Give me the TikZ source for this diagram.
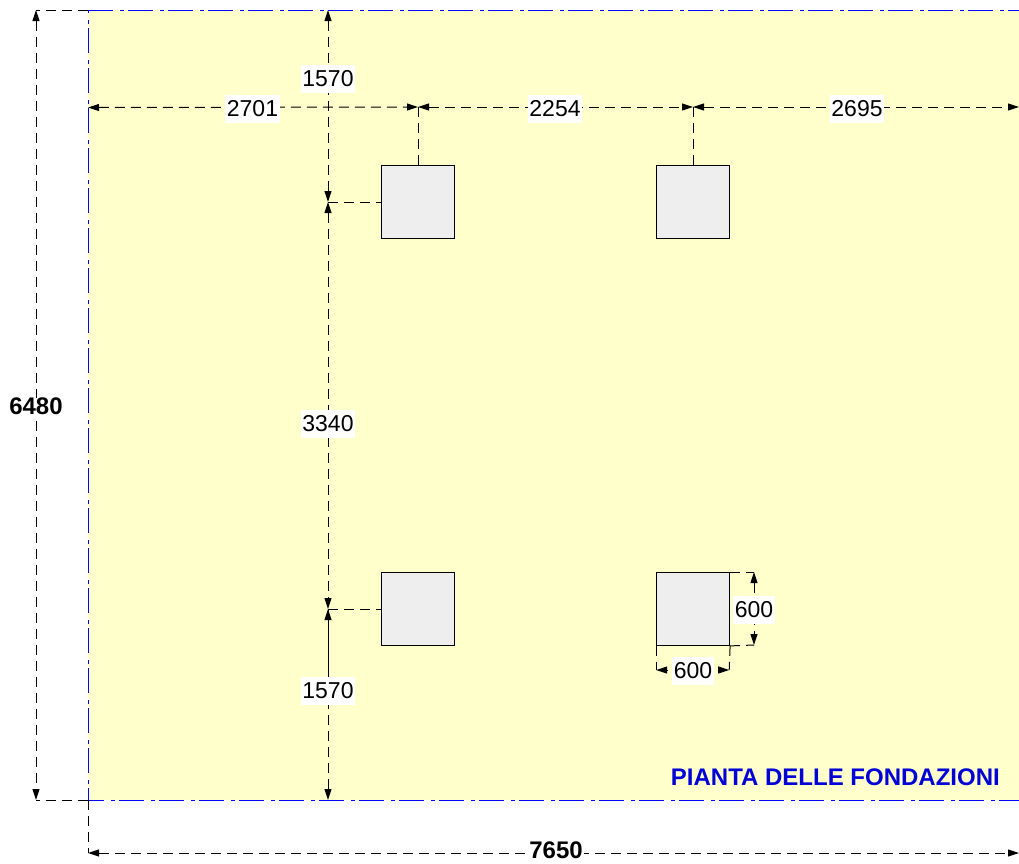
\documentclass[tikz,border=0pt]{standalone}
\usepackage{fontspec}
\setmainfont{Liberation Sans}
\usetikzlibrary{arrows.meta}
\definecolor{plan}{RGB}{255,255,204}
\definecolor{column}{RGB}{238,238,238}
\definecolor{titleblue}{RGB}{0,0,215}
\tikzset{
  x=1pt,y=-1pt,
  tip/.tip={Triangle[length=11pt,width=7pt]},
  dimline/.style={draw=black,line width=1pt,dash pattern=on 10pt off 6pt},
  extline/.style={draw=black,line width=1pt,dash pattern=on 10pt off 6pt},
  dimarrow/.style={tip-tip},
  axisline/.style={draw=blue,line width=1pt},
  columnbox/.style={draw=black,fill=column,line width=0.9pt,minimum width=73pt,minimum height=73pt,inner sep=0pt,anchor=north west},
  dimlabel/.style={fill=white,inner xsep=1.5pt,inner ysep=0pt,minimum height=28pt,font=\fontsize{23}{23}\selectfont,text=black},
  boldlabel/.style={dimlabel,minimum height=17pt,font=\fontsize{24}{24}\selectfont\bfseries},
  titlelabel/.style={font=\fontsize{24}{24}\selectfont\bfseries,text=titleblue,anchor=east,inner sep=0pt}
}
\begin{document}
\begin{tikzpicture}
\useasboundingbox (0,0) rectangle (1019,863);
\fill[plan] (88,10) rectangle (1019,800);
% frame points
\coordinate (TL) at (88,10);
\coordinate (TR) at (1019,10);
\coordinate (BL) at (88,800);
\coordinate (BR) at (1019,800);
\coordinate (LT) at (36,10);
\coordinate (LB) at (36,800);
\coordinate (BD) at (88,853);
\coordinate (BE) at (1019,853);
\coordinate (A0) at (88,107.5);
\coordinate (A1) at (418,107);
\coordinate (A2) at (693,107);
\coordinate (A3) at (1019,107);
\coordinate (V0) at (328,10);
\coordinate (V1) at (328,202);
\coordinate (V2) at (328,609);
\coordinate (V3) at (328,800);
% columns
\node[columnbox] (c1) at (381.2,165) {};
\node[columnbox] (c2) at (656.2,165) {};
\node[columnbox] (c3) at (381.2,572) {};
\node[columnbox] (c4) at (656.2,572) {};
% blue axis lines
\draw[axisline,dash pattern=on 25pt off 7pt on 4pt off 4pt] (TL) -- (TR);
\draw[axisline,dash pattern=on 25pt off 7pt on 4pt off 4pt,dash phase=22pt] (TL) -- (BL);
\draw[axisline,dash pattern=on 25pt off 7pt on 4pt off 4pt,dash phase=9pt] (BL) -- (BR);
% extension lines
\draw[extline] (TL) -- (LT);
\draw[extline] (BL) -- (LB);
\draw[extline] (BL) -- (BD);
\draw[extline] (A1) -- (c1.north -| A1);
\draw[extline] (A2) -- (c2.north -| A2);
\draw[extline] (V1) -- (c1.west |- V1);
\draw[extline] (V2) -- (c3.west |- V2);
% dimension lines
\draw[dimline,dimarrow] (LT) -- (LB);
\draw[dimline,dimarrow] (BD) -- (BE);
\draw[dimline,dimarrow] (A0) -- (A1);
\draw[dimline,dimarrow] (A1) -- (A2);
\draw[dimline,dimarrow] (A2) -- (A3);
\draw[dimline,dimarrow] (V0) -- (V1);
\draw[dimline,dimarrow] (V1) -- (V2);
\draw[dimline,dimarrow] (V3) -- (V2);
\coordinate (S1) at (328,680);
\draw[line width=1pt] (V2) -- (S1);
% 600 dimensions
\coordinate (H1) at (656.2,670);
\coordinate (H2) at (729.2,670);
\coordinate (W1) at (754,572);
\coordinate (W2) at (754,645);
\coordinate (H1e) at (668,670);
\coordinate (H2e) at (718,670);
\draw[extline] (c4.south west) -- (H1);
\draw[extline] (c4.south east) -- (H2);
\draw[tip-,line width=1pt] (H1) -- (H1e);
\draw[tip-,line width=1pt] (H2) -- (H2e);
\draw[extline] (c4.north east) -- (W1);
\draw[extline] (c4.south east) -- (W2);
\draw[dimline,dimarrow] (W1) -- (W2);
% labels
\node[dimlabel] (l1) at (328,79) {1570};
\node[dimlabel] (l2) at (252.5,108.5) {2701};
\node[dimlabel] (l3) at (555,108.5) {2254};
\node[dimlabel] (l4) at (857,108.5) {2695};
\node[dimlabel] (l5) at (328,424) {3340};
\node[dimlabel] (l6) at (328,691) {1570};
\node[boldlabel] (l7) at (36,406.5) {6480};
\node[boldlabel] (l8) at (556,850) {7650};
\node[dimlabel] (l9) at (754,610) {600};
\node[dimlabel] (l10) at (693,671) {600};
\node[titlelabel] (t) at (1000,777.5) {PIANTA DELLE FONDAZIONI};
\end{tikzpicture}
\end{document}
